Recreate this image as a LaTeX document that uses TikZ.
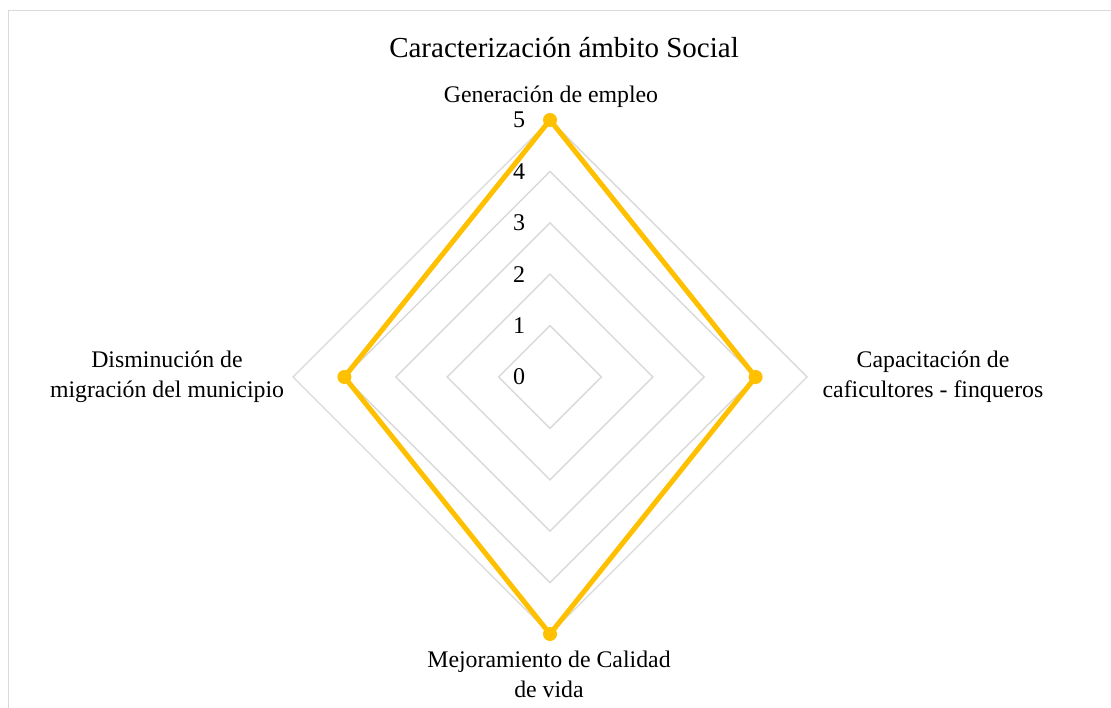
\documentclass[tikz,border=0pt]{standalone}
\usepackage{fontspec}
\setmainfont{Liberation Serif}
\usetikzlibrary{calc}
\definecolor{gridgray}{HTML}{D9D9D9}
\definecolor{series}{HTML}{FFC000}
\tikzset{
  gridline/.style={draw=gridgray, line width=1.4pt},
  frameline/.style={draw=gridgray, line width=1.5pt},
  seriesline/.style={draw=series, line width=5pt, line join=round},
  marker/.style={circle, fill=series, inner sep=0pt, minimum size=14pt},
  catlabel/.style={align=center, inner sep=0pt, font=\fontsize{23.8}{30}\selectfont},
  ticklabel/.style={inner sep=0pt, font=\fontsize{24}{28}\selectfont},
  titlelabel/.style={inner sep=0pt, font=\fontsize{29}{34}\selectfont}
}
\begin{document}
\begin{tikzpicture}[x=1pt, y=-1pt]
\useasboundingbox (0,0) rectangle (1111,708);
\fill[white] (0,0) rectangle (1111,708);
% frame
\draw[frameline] (8.5,720) -- (8.5,10.5) -- (1120,10.5);
\coordinate (c) at (550,377);
% grid diamonds
\foreach \k in {1,...,5}{
  \pgfmathsetmacro{\r}{51.4*\k}
  \draw[gridline] ($(c)+(0,-\r)$) -- ($(c)+(\r,0)$) -- ($(c)+(0,\r)$) -- ($(c)+(-\r,0)$) -- cycle;
}
% tick labels
\foreach \k in {0,...,5}{
  \node[ticklabel] (t\k) at (519,{377-51.4*\k}) {\k};
}
% data points
\coordinate (p1) at (550,{377-51.4*5});
\coordinate (p2) at ({550+51.4*4},377);
\coordinate (p3) at (550,{377+51.4*5});
\coordinate (p4) at ({550-51.4*4},377);
\draw[seriesline] (p1) -- (p2) -- (p3) -- (p4) -- cycle;
\foreach \i in {1,...,4}{
  \node[marker] (m\i) at (p\i) {};
}
% title
\node[titlelabel] (title) at (564,48) {Caracterización ámbito Social};
% category labels
\node[catlabel] (l1) at (551,97) {Generación de empleo};
\node[catlabel] (l2) at (933,377) {Capacitación de\\caficultores - finqueros};
\node[catlabel] (l3) at (549,674) {Mejoramiento de Calidad\\de vida};
\node[catlabel] (l4) at (167,377) {Disminución de\\migración del municipio};
\end{tikzpicture}
\end{document}
